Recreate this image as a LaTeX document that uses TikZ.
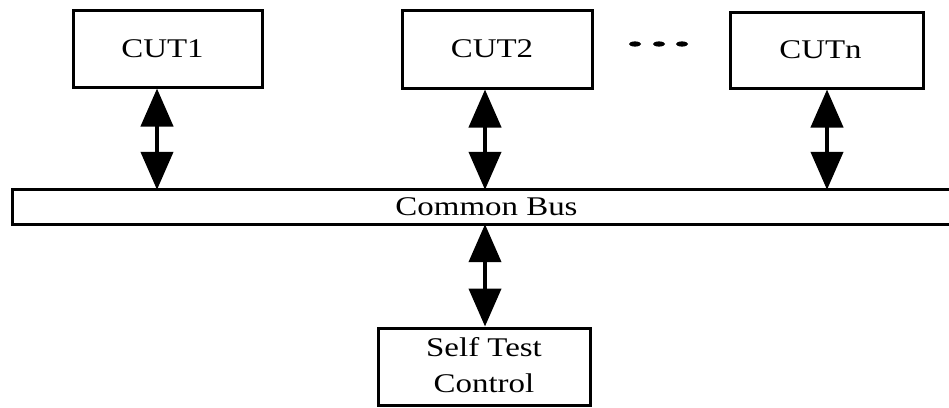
\documentclass[tikz,border=0pt]{standalone}
\usepackage{fontspec}
\setmainfont[FakeStretch=1.22]{Liberation Serif}
\usetikzlibrary{arrows.meta,calc}
\begin{document}
\begin{tikzpicture}[x=1pt,y=-1pt,
  blk/.style={draw, line width=3pt, inner sep=0pt,
    font=\fontsize{27}{36}\selectfont, align=center},
  biarrow/.style={line width=4.2pt,
    {Triangle[length=38pt,width=32pt]}-{Triangle[length=38pt,width=32pt]}},
  busline/.style={line width=3pt}]
\useasboundingbox (0,0) rectangle (949,407);

% circuits under test (labels sit a little left of centre)
\node[blk, minimum width=189pt, minimum height=77pt] (cut1) at (167.5,48.5) {CUT1\hspace*{10pt}};
\node[blk, minimum width=190pt, minimum height=78pt] (cut2) at (497,49) {CUT2\hspace*{10pt}};
\node[blk, minimum width=193pt, minimum height=76pt] (cutn) at (826.5,50) {CUTn\hspace*{12pt}};

% ellipsis between CUT2 and CUTn
\foreach \x in {635,659,682}
  \fill (\x,44) ellipse (6pt and 2.6pt);

% the shared bus, open towards the right
\node[font=\fontsize{27}{30}\selectfont, minimum width=947pt, minimum height=34pt,
  inner sep=0pt] (bus) at (486.5,207) {Common Bus};
\draw[busline] (bus.north east) -- (bus.north west) -- (bus.south west) -- (bus.south east);

% self test controller
\node[blk, minimum width=212pt, minimum height=77pt] (stc) at (484,366.5)
  {\raisebox{3pt}{Self Test}\\\raisebox{3pt}{Control}};

% bidirectional links to the bus
\coordinate (a1) at ($(cut1.south)+(-10.5,0)$);
\coordinate (a2) at ($(cut2.south)+(-12,0)$);
\coordinate (an) at ($(cutn.south)+(0.5,0)$);
\coordinate (as) at ($(stc.north)+(1,0)$);
\draw[biarrow] (a1) -- (a1 |- bus.north);
\draw[biarrow] (a2) -- (a2 |- bus.north);
\draw[biarrow] (an) -- (an |- bus.north);
\draw[biarrow] (as |- bus.south) -- (as);
\end{tikzpicture}
\end{document}
